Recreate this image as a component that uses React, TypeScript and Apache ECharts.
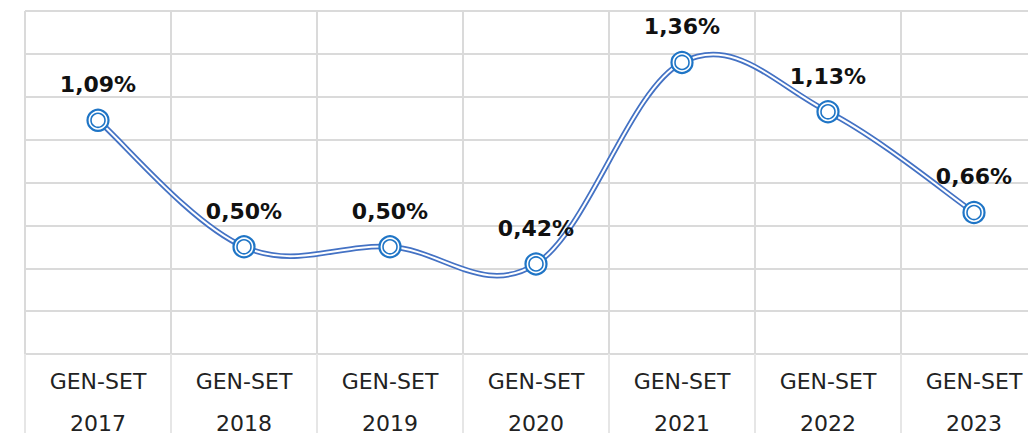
import React, { useEffect, useRef } from "react";
import * as echarts from "echarts";

const categories = ["GEN-SET\n2017", "GEN-SET\n2018", "GEN-SET\n2019", "GEN-SET\n2020", "GEN-SET\n2021", "GEN-SET\n2022", "GEN-SET\n2023"];
const values = [1.09, 0.5, 0.5, 0.42, 1.36, 1.13, 0.66];
const yMin = 0;
const yMax = 1.6;
const yInterval = 0.2;

const GRID_COLOR = "#dadada";
const LINE_BLUE = "#4472c4";
const MARK_BLUE = "#1f75c6";
const TENSION = 0.18;

export default function App() {
  const ref = useRef<HTMLDivElement>(null);
  useEffect(() => {
    if (!ref.current) return;
    const chart = echarts.init(ref.current, null, { renderer: "svg" });
    const fmt = (v: number) => v.toFixed(2).replace(".", ",") + "%";
    const n = values.length;
    const renderSegment = (params: any, api: any) => {
      const i = params.dataIndex;
      if (i >= n - 1) return null;
      const pt = (k: number) => {
        const kk = Math.max(0, Math.min(n - 1, k));
        return api.coord([kk, values[kk]]);
      };
      const p0 = pt(i - 1);
      const p1 = pt(i);
      const p2 = pt(i + 1);
      const p3 = pt(i + 2);
      const shape = {
        x1: p1[0],
        y1: p1[1],
        cpx1: p1[0] + (p2[0] - p0[0]) * TENSION,
        cpy1: p1[1] + (p2[1] - p0[1]) * TENSION,
        cpx2: p2[0] - (p3[0] - p1[0]) * TENSION,
        cpy2: p2[1] - (p3[1] - p1[1]) * TENSION,
        x2: p2[0],
        y2: p2[1],
      };
      return {
        type: "group",
        children: [
          { type: "bezierCurve", shape, style: { stroke: LINE_BLUE, lineWidth: 5.5, fill: null } },
          { type: "bezierCurve", shape, style: { stroke: "#ffffff", lineWidth: 2, fill: null } },
        ],
      };
    };
    chart.setOption({
      animation: false,
      grid: { left: 25, right: -19, top: 11, bottom: 79, outerBoundsMode: "none", containLabel: false },
      xAxis: {
        type: "category",
        data: categories,
        boundaryGap: true,
        axisLine: { show: true, lineStyle: { color: GRID_COLOR, width: 2 } },
        axisTick: { show: true, length: 90, lineStyle: { color: "#e6e6e6", width: 2 } },
        splitLine: { show: true, lineStyle: { color: GRID_COLOR, width: 2 } },
        axisLabel: {
          color: "#222",
          fontFamily: "DejaVu Sans",
          fontSize: 22,
          lineHeight: 42,
          margin: 6,
          interval: 0,
        },
      },
      yAxis: {
        type: "value",
        min: yMin,
        max: yMax,
        interval: yInterval,
        axisLabel: { show: false },
        axisLine: { show: false },
        axisTick: { show: false },
        splitLine: { show: true, lineStyle: { color: GRID_COLOR, width: 2 } },
      },
      series: [
        {
          type: "custom",
          data: values.map((v, i) => [i, v]),
          renderItem: renderSegment,
          encode: { x: 0, y: 1 },
          clip: false,
          z: 2,
        },
        {
          type: "scatter",
          data: values,
          symbol: "circle",
          symbolSize: 21,
          itemStyle: { color: "#ffffff", borderColor: MARK_BLUE, borderWidth: 2.2, opacity: 1 },
          label: {
            show: true,
            position: "top",
            distance: 13,
            formatter: (p: any) => fmt(p.value),
            color: "#111",
            fontFamily: "DejaVu Sans",
            fontWeight: "bold",
            fontSize: 22,
          },
          z: 4,
        },
        {
          type: "scatter",
          data: values,
          symbol: "circle",
          symbolSize: 14,
          itemStyle: { color: "#ffffff", borderColor: MARK_BLUE, borderWidth: 1.6, opacity: 1 },
          z: 5,
        },
      ],
    });
    return () => chart.dispose();
  }, []);
  return (
    <div
      ref={ref}
      style={{ position: "absolute", left: 0, top: 0, width: 1028, height: 433, background: "#fff" }}
    />
  );
}
